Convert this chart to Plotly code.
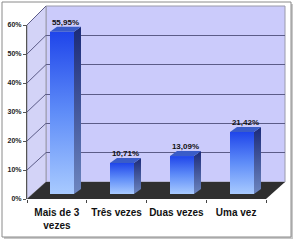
import plotly.graph_objects as go

categories = ["Mais de 3<br>vezes", "Três vezes", "Duas vezes", "Uma vez"]
values = [0.5595, 0.1071, 0.1309, 0.2142]
value_labels = ["55,95%", "10,71%", "13,09%", "21,42%"]

W, H = 297, 242
def px(x): return x / W
def py(y): return 1 - y / H

FONT = "Liberation Sans, Arial, sans-serif"

fig = go.Figure()

# back-wall grid subplot (main axes)
fig.add_trace(go.Scatter(x=[0], y=[0], mode="markers", marker=dict(opacity=0),
                         hoverinfo="skip", showlegend=False, xaxis="x", yaxis="y"))

# 3D-ish bars on x2/y2
w = 0.2          # half width (category units)
dx = 7 / 60      # depth offset in category units
dy = 0.6 * 5 / 174  # depth offset in value units
for i, v in enumerate(values):
    fx = [i - w, i + w, i + w, i - w, i - w]
    fy = [0, 0, v, v, 0]
    fig.add_trace(go.Scatter(x=fx, y=fy, mode="lines", fill="toself", line=dict(width=0),
                             fillgradient=dict(type="vertical",
                                               colorscale=[[0, "#a8caff"], [0.5, "#5f8df8"], [1, "#1f45ea"]]),
                             hoverinfo="skip", showlegend=False, xaxis="x2", yaxis="y2"))
    sx = [i + w, i + w + dx, i + w + dx, i + w, i + w]
    sy = [0, dy, v + dy, v, 0]
    fig.add_trace(go.Scatter(x=sx, y=sy, mode="lines", fill="toself", line=dict(width=0),
                             fillgradient=dict(type="vertical",
                                               colorscale=[[0, "#6d86c0"], [1, "#1b2a78"]]),
                             hoverinfo="skip", showlegend=False, xaxis="x2", yaxis="y2"))
    tx = [i - w, i + w, i + w + dx, i - w + dx, i - w]
    ty = [v, v, v + dy, v + dy, v]
    fig.add_trace(go.Scatter(x=tx, y=ty, mode="lines", fill="toself", line=dict(width=0),
                             fillcolor="#3a5cc8",
                             hoverinfo="skip", showlegend=False, xaxis="x2", yaxis="y2"))

fig.add_trace(go.Scatter(x=[i + dx / 2 for i in range(len(values))],
                         y=[v + dy for v in values],
                         mode="text", text=value_labels, textposition="top center",
                         textfont=dict(family=FONT, size=8, color="#111", weight="bold"),
                         cliponaxis=False, hoverinfo="skip", showlegend=False,
                         xaxis="x2", yaxis="y2"))

# front axes with labels on x3/y3
fig.add_trace(go.Scatter(x=categories, y=[None] * 4, mode="markers",
                         hoverinfo="skip", showlegend=False, xaxis="x3", yaxis="y3"))

shapes = []
# outer frame with shadow
shapes.append(dict(type="rect", xref="paper", yref="paper", x0=px(4), x1=px(293), y0=py(4), y1=py(239),
                   line=dict(width=0), fillcolor="#c8c8c8", layer="below"))
shapes.append(dict(type="rect", xref="paper", yref="paper", x0=px(2), x1=px(291), y0=py(2), y1=py(237),
                   line=dict(width=1, color="#8a8a8a"), fillcolor="white", layer="below"))
def path(pts):
    return "M " + " L ".join(f"{px(a)},{py(b)}" for a, b in pts) + " Z"
# back wall
shapes.append(dict(type="path", xref="paper", yref="paper", path=path([(46, 6), (285, 6), (285, 182), (46, 182)]),
                   fillcolor="#cbcbfb", line=dict(width=1, color="#9a9aaa"), layer="below"))
# side wall
shapes.append(dict(type="path", xref="paper", yref="paper", path=path([(27, 25), (46, 6), (46, 182), (27, 199)]),
                   fillcolor="#d3d3f7", line=dict(width=1, color="#9a9aaa"), layer="below"))
# diagonal grid lines on side wall
for k in range(1, 7):
    yf = 199 - k * 29
    yb = 182 - k * 176 / 6
    shapes.append(dict(type="line", xref="paper", yref="paper", x0=px(27), y0=py(yf), x1=px(46), y1=py(yb),
                       line=dict(width=1, color="#5c5c88"), layer="below"))
# floor
shapes.append(dict(type="path", xref="paper", yref="paper", path=path([(27, 199), (266, 199), (285, 182), (46, 182)]),
                   fillcolor="#2f2f2f", line=dict(width=0), layer="below"))

fig.update_layout(
    width=W, height=H, margin=dict(l=0, r=0, t=0, b=0),
    paper_bgcolor="white", plot_bgcolor="rgba(0,0,0,0)",
    showlegend=False, shapes=shapes,
    font=dict(family=FONT, color="#111"),
    xaxis=dict(domain=[px(46), px(285)], range=[-0.5, 3.5], visible=False),
    yaxis=dict(domain=[py(182), py(6)], range=[0, 0.6], dtick=0.1, showgrid=True,
               gridcolor="#5c5c88", gridwidth=1, zeroline=False, showticklabels=False,
               showline=False, ticks=""),
    xaxis2=dict(domain=[px(32), px(272)], range=[-0.5, 3.5], visible=False, anchor="y2"),
    yaxis2=dict(domain=[py(194), py(20)], range=[0, 0.6], visible=False, anchor="x2"),
    xaxis3=dict(domain=[px(27), px(266)], range=[-0.5, 3.5], anchor="y3", type="category",
                showgrid=False, showline=False, ticks="outside", ticklen=3, tickcolor="#444",
                tickson="boundaries", tickangle=0, automargin=False, ticklabelstandoff=6,
                tickfont=dict(family=FONT, size=10, color="#111", weight="bold")),
    yaxis3=dict(domain=[py(199), py(25)], range=[0, 0.6], anchor="x3", dtick=0.1, tickformat=".0%",
                showgrid=False, zeroline=False, showline=True, linecolor="#555", linewidth=1,
                ticks="outside", ticklen=3, tickcolor="#555", automargin=False,
                tickfont=dict(family=FONT, size=7, color="#222", weight="bold")),
)

fig.write_html("out.html")
